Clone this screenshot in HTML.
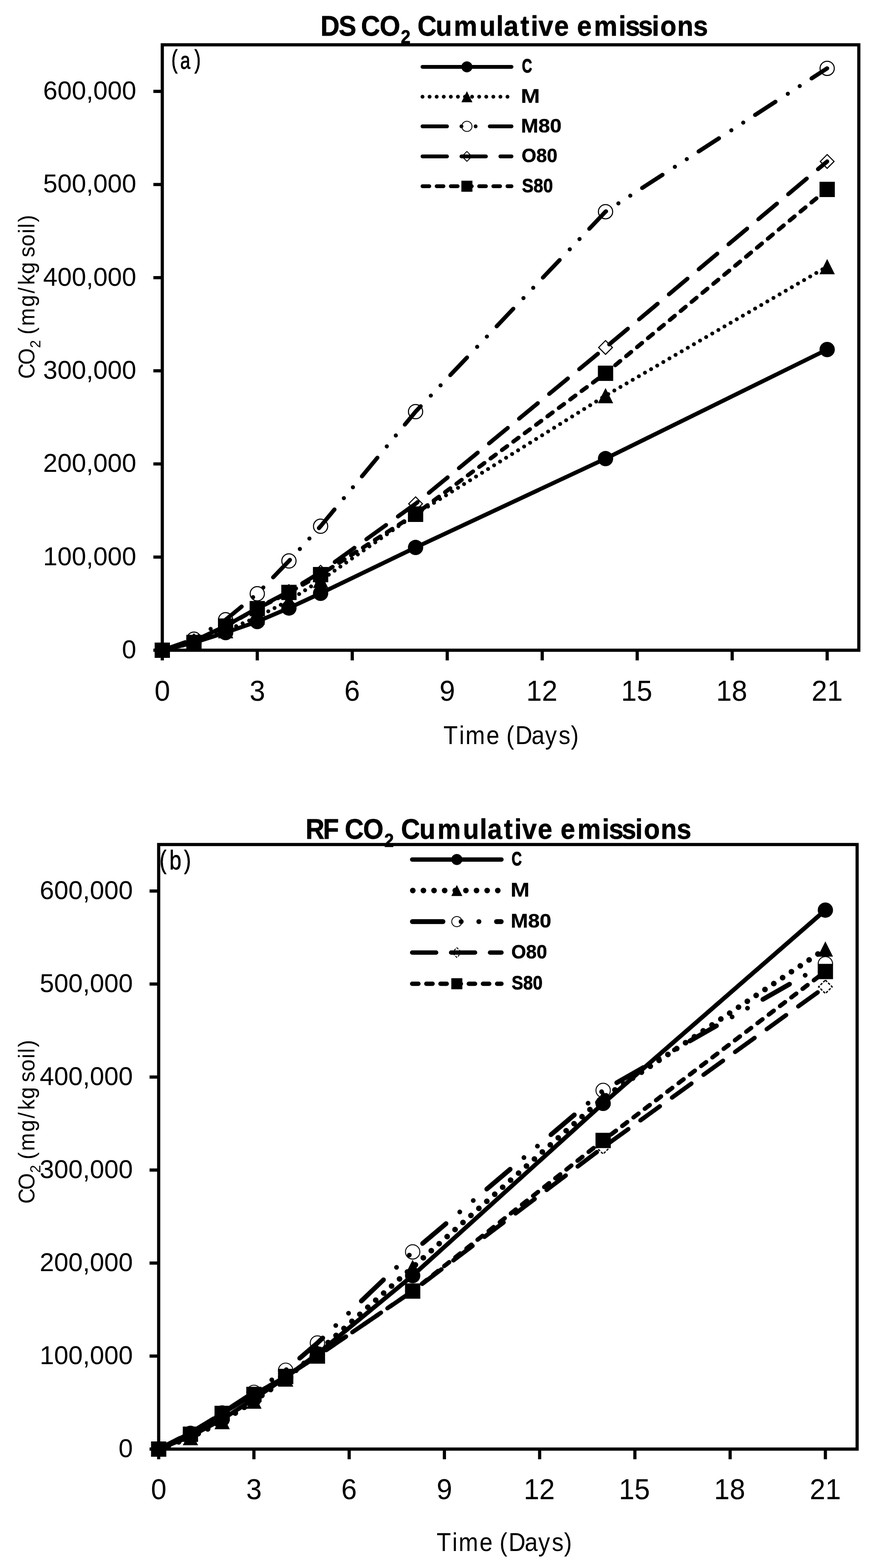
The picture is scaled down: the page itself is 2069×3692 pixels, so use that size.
<!DOCTYPE html>
<html><head><meta charset="utf-8"><title>CO2 Cumulative emissions</title>
<style>html,body{margin:0;padding:0;background:#fff}svg{display:block}text{font-family:"Liberation Sans",sans-serif;font-kerning:none;fill:#000}text[font-weight=bold]{stroke:#000;stroke-width:0.9px;stroke-linejoin:round;paint-order:stroke}</style>
</head><body>
<svg width="2069" height="3692" viewBox="0 0 2069 3692">
<rect width="2069" height="3692" fill="#fff"/>
<g id="chart-a">
<rect x="382.00" y="105.50" width="1639.50" height="1425.50" fill="none" stroke="#000" stroke-width="7.50"/>
<rect x="361.00" y="1527.25" width="21.00" height="7.50"/>
<text transform="translate(287.12 1550.00) scale(0.9950 1)" font-size="61.00">0</text>
<rect x="361.00" y="1307.94" width="21.00" height="7.50"/>
<text transform="translate(101.47 1330.69) scale(0.9950 1)" font-size="61.00">100,000</text>
<rect x="361.00" y="1088.63" width="21.00" height="7.50"/>
<text transform="translate(101.47 1111.38) scale(0.9950 1)" font-size="61.00">200,000</text>
<rect x="361.00" y="869.33" width="21.00" height="7.50"/>
<text transform="translate(101.47 892.08) scale(0.9950 1)" font-size="61.00">300,000</text>
<rect x="361.00" y="650.02" width="21.00" height="7.50"/>
<text transform="translate(101.47 672.77) scale(0.9950 1)" font-size="61.00">400,000</text>
<rect x="361.00" y="430.71" width="21.00" height="7.50"/>
<text transform="translate(101.47 453.46) scale(0.9950 1)" font-size="61.00">500,000</text>
<rect x="361.00" y="211.40" width="21.00" height="7.50"/>
<text transform="translate(101.47 234.15) scale(0.9950 1)" font-size="61.00">600,000</text>
<rect x="378.25" y="1531.00" width="7.50" height="24.00"/>
<text transform="translate(363.67 1649.60) scale(0.9650 1)" font-size="68.30">0</text>
<rect x="601.82" y="1531.00" width="7.50" height="24.00"/>
<text transform="translate(587.43 1649.60) scale(0.9650 1)" font-size="68.30">3</text>
<rect x="825.39" y="1531.00" width="7.50" height="24.00"/>
<text transform="translate(810.58 1649.60) scale(0.9650 1)" font-size="68.30">6</text>
<rect x="1048.95" y="1531.00" width="7.50" height="24.00"/>
<text transform="translate(1034.39 1649.60) scale(0.9650 1)" font-size="68.30">9</text>
<rect x="1272.52" y="1531.00" width="7.50" height="24.00"/>
<text transform="translate(1238.76 1649.60) scale(0.9650 1)" font-size="68.30">12</text>
<rect x="1496.09" y="1531.00" width="7.50" height="24.00"/>
<text transform="translate(1462.06 1649.60) scale(0.9650 1)" font-size="68.30">15</text>
<rect x="1719.66" y="1531.00" width="7.50" height="24.00"/>
<text transform="translate(1685.68 1649.60) scale(0.9650 1)" font-size="68.30">18</text>
<rect x="1943.23" y="1531.00" width="7.50" height="24.00"/>
<text transform="translate(1910.27 1649.60) scale(0.9650 1)" font-size="68.30">21</text>
<path d="M382.00 1531.00 L456.52 1513.00 L531.05 1489.50 L605.57 1463.60 L680.09 1431.70 L754.61 1397.00 L978.18 1289.10 L1425.32 1079.80 L1946.98 823.00" fill="none" stroke="#000" stroke-width="9.70" stroke-linecap="round" stroke-linejoin="round"/>
<path d="M382.00 1531.00 L456.52 1514.00 L531.05 1485.00 L605.57 1453.00 L680.09 1414.00 L754.61 1366.50 L978.18 1211.00 L1425.32 931.60 L1946.98 627.80" fill="none" stroke="#000" stroke-width="9.30" stroke-linecap="round" stroke-linejoin="round" stroke-dasharray="0.01 16.66" stroke-dashoffset="0.00"/>
<path d="M382.00 1531.00 L456.52 1505.00 L531.05 1459.30 L605.57 1398.00 L680.09 1320.80 L754.61 1239.10 L978.18 969.30 L1425.32 498.40 L1946.98 160.90" fill="none" stroke="#000" stroke-width="9.70" stroke-linecap="round" stroke-linejoin="round" stroke-dasharray="56.96 34.70 0.01 33.32 0.01 33.32" stroke-dashoffset="0.00"/>
<path d="M382.00 1531.00 L456.52 1509.00 L531.05 1474.00 L605.57 1432.00 L680.09 1392.80 L754.61 1347.40 L978.18 1186.20 L1425.32 818.20 L1946.98 380.20" fill="none" stroke="#000" stroke-width="9.70" stroke-linecap="round" stroke-linejoin="round" stroke-dasharray="56.96 34.70" stroke-dashoffset="0.00"/>
<path d="M382.00 1531.00 L456.52 1512.70 L531.05 1474.20 L605.57 1433.10 L680.09 1394.90 L754.61 1353.00 L978.18 1210.40 L1425.32 878.90 L1946.98 446.00" fill="none" stroke="#000" stroke-width="9.70" stroke-linecap="round" stroke-linejoin="round" stroke-dasharray="15.30 18.03" stroke-dashoffset="0.00"/>
<circle cx="382.00" cy="1531.00" r="18.00"/>
<circle cx="456.52" cy="1513.00" r="18.00"/>
<circle cx="531.05" cy="1489.50" r="18.00"/>
<circle cx="605.57" cy="1463.60" r="18.00"/>
<circle cx="680.09" cy="1431.70" r="18.00"/>
<circle cx="754.61" cy="1397.00" r="18.00"/>
<circle cx="978.18" cy="1289.10" r="18.00"/>
<circle cx="1425.32" cy="1079.80" r="18.00"/>
<circle cx="1946.98" cy="823.00" r="18.00"/>
<path d="M382.00 1513.00 L400.00 1549.00 L364.00 1549.00 Z"/>
<path d="M456.52 1496.00 L474.52 1532.00 L438.52 1532.00 Z"/>
<path d="M531.05 1467.00 L549.05 1503.00 L513.05 1503.00 Z"/>
<path d="M605.57 1435.00 L623.57 1471.00 L587.57 1471.00 Z"/>
<path d="M680.09 1396.00 L698.09 1432.00 L662.09 1432.00 Z"/>
<path d="M754.61 1348.50 L772.61 1384.50 L736.61 1384.50 Z"/>
<path d="M978.18 1193.00 L996.18 1229.00 L960.18 1229.00 Z"/>
<path d="M1425.32 913.60 L1443.32 949.60 L1407.32 949.60 Z"/>
<path d="M1946.98 609.80 L1964.98 645.80 L1928.98 645.80 Z"/>
<circle cx="382.00" cy="1531.00" r="16.75" fill="none" stroke="#000" stroke-width="2.50"/>
<circle cx="456.52" cy="1505.00" r="16.75" fill="none" stroke="#000" stroke-width="2.50"/>
<circle cx="531.05" cy="1459.30" r="16.75" fill="none" stroke="#000" stroke-width="2.50"/>
<circle cx="605.57" cy="1398.00" r="16.75" fill="none" stroke="#000" stroke-width="2.50"/>
<circle cx="680.09" cy="1320.80" r="16.75" fill="none" stroke="#000" stroke-width="2.50"/>
<circle cx="754.61" cy="1239.10" r="16.75" fill="none" stroke="#000" stroke-width="2.50"/>
<circle cx="978.18" cy="969.30" r="16.75" fill="none" stroke="#000" stroke-width="2.50"/>
<circle cx="1425.32" cy="498.40" r="16.75" fill="none" stroke="#000" stroke-width="2.50"/>
<circle cx="1946.98" cy="160.90" r="16.75" fill="none" stroke="#000" stroke-width="2.50"/>
<path d="M382.00 1514.77 L398.23 1531.00 L382.00 1547.23 L365.77 1531.00 Z" fill="none" stroke="#000" stroke-width="2.50"/>
<path d="M456.52 1492.77 L472.75 1509.00 L456.52 1525.23 L440.29 1509.00 Z" fill="none" stroke="#000" stroke-width="2.50"/>
<path d="M531.05 1457.77 L547.28 1474.00 L531.05 1490.23 L514.81 1474.00 Z" fill="none" stroke="#000" stroke-width="2.50"/>
<path d="M605.57 1415.77 L621.80 1432.00 L605.57 1448.23 L589.34 1432.00 Z" fill="none" stroke="#000" stroke-width="2.50"/>
<path d="M680.09 1376.57 L696.32 1392.80 L680.09 1409.03 L663.86 1392.80 Z" fill="none" stroke="#000" stroke-width="2.50"/>
<path d="M754.61 1331.17 L770.85 1347.40 L754.61 1363.63 L738.38 1347.40 Z" fill="none" stroke="#000" stroke-width="2.50"/>
<path d="M978.18 1169.97 L994.41 1186.20 L978.18 1202.43 L961.95 1186.20 Z" fill="none" stroke="#000" stroke-width="2.50"/>
<path d="M1425.32 801.97 L1441.55 818.20 L1425.32 834.43 L1409.09 818.20 Z" fill="none" stroke="#000" stroke-width="2.50"/>
<path d="M1946.98 363.97 L1963.21 380.20 L1946.98 396.43 L1930.75 380.20 Z" fill="none" stroke="#000" stroke-width="2.50"/>
<rect x="364.00" y="1513.00" width="36.00" height="36.00"/>
<rect x="438.52" y="1494.70" width="36.00" height="36.00"/>
<rect x="513.05" y="1456.20" width="36.00" height="36.00"/>
<rect x="587.57" y="1415.10" width="36.00" height="36.00"/>
<rect x="662.09" y="1376.90" width="36.00" height="36.00"/>
<rect x="736.61" y="1335.00" width="36.00" height="36.00"/>
<rect x="960.18" y="1192.40" width="36.00" height="36.00"/>
<rect x="1407.32" y="860.90" width="36.00" height="36.00"/>
<rect x="1928.98" y="428.00" width="36.00" height="36.00"/>
<path d="M994.50 157.40 L1204.00 157.40" fill="none" stroke="#000" stroke-width="9.00" stroke-linecap="round" stroke-linejoin="round"/>
<circle cx="1099.00" cy="157.40" r="13.00"/>
<text transform="translate(1228.59 171.40) scale(0.7138 1)" font-size="46.50" font-weight="bold" style="stroke:#000;stroke-width:1.30px;stroke-linejoin:round;vector-effect:non-scaling-stroke">C</text>
<path d="M994.50 227.70 L1204.00 227.70" fill="none" stroke="#000" stroke-width="9.00" stroke-linecap="round" stroke-linejoin="round" stroke-dasharray="0.01 16.66" stroke-dashoffset="0.00"/>
<path d="M1099.00 214.70 L1112.00 240.70 L1086.00 240.70 Z"/>
<text transform="translate(1225.82 241.70) scale(1.1657 1)" font-size="46.50" font-weight="bold" style="stroke:#000;stroke-width:0.30px;stroke-linejoin:round;vector-effect:non-scaling-stroke">M</text>
<path d="M994.50 297.50 L1204.00 297.50" fill="none" stroke="#000" stroke-width="9.00" stroke-linecap="round" stroke-linejoin="round" stroke-dasharray="57.66 34.00 0.01 33.32 0.01 33.32" stroke-dashoffset="0.00"/>
<circle cx="1099.00" cy="297.50" r="12.00" fill="none" stroke="#000" stroke-width="2.00"/>
<text transform="translate(1226.26 311.50) scale(1.0581 1)" font-size="46.50" font-weight="bold" style="stroke:#000;stroke-width:0.50px;stroke-linejoin:round;vector-effect:non-scaling-stroke">M80</text>
<path d="M994.50 368.20 L1204.00 368.20" fill="none" stroke="#000" stroke-width="9.00" stroke-linecap="round" stroke-linejoin="round" stroke-dasharray="57.66 34.00" stroke-dashoffset="0.00"/>
<path d="M1099.00 356.61 L1110.59 368.20 L1099.00 379.79 L1087.41 368.20 Z" fill="none" stroke="#000" stroke-width="2.00"/>
<text transform="translate(1227.77 382.20) scale(0.9586 1)" font-size="46.50" font-weight="bold" style="stroke:#000;stroke-width:0.60px;stroke-linejoin:round;vector-effect:non-scaling-stroke">O80</text>
<path d="M994.50 438.50 L1204.00 438.50" fill="none" stroke="#000" stroke-width="9.00" stroke-linecap="round" stroke-linejoin="round" stroke-dasharray="16.00 17.33" stroke-dashoffset="0.00"/>
<rect x="1086.00" y="425.50" width="26.00" height="26.00"/>
<text transform="translate(1228.57 452.50) scale(0.8806 1)" font-size="46.50" font-weight="bold" style="stroke:#000;stroke-width:0.90px;stroke-linejoin:round;vector-effect:non-scaling-stroke">S80</text>
<text transform="translate(0 83.90) scale(0.9265 1)" font-size="67.00" font-weight="bold" x="814.44 860.53 901.80 917.29 964.54 1018.33 1044.59 1060.62 1107.19 1152.97 1217.98 1260.66 1280.22 1322.08 1348.51 1368.15 1407.96 1446.35 1466.13 1508.87 1571.71 1588.78 1621.32 1656.22 1677.68 1720.50 1761.35" xml:space="preserve">DS CO<tspan font-size="44.00" dy="18.00">2</tspan><tspan dy="-18.00"> Cumulative emissions</tspan></text>
<text transform="translate(0 1752.00) scale(0.8973 1)" font-size="61.60" x="1163.20 1204.31 1220.91 1275.77 1312.41 1328.11 1351.79 1394.15 1429.83 1465.54 1497.57" xml:space="preserve">Time (Days)</text>
<text transform="translate(81.00 0) rotate(-90) scale(0.9350 1)" font-size="54.00" x="-953.95 -918.73 -876.41 -855.19 -842.42 -820.99 -772.68 -738.87 -717.69 -690.16 -661.33 -647.85 -620.39 -587.99 -574.54 -559.37" xml:space="preserve">CO<tspan font-size="36.00" dy="14.10">2</tspan><tspan dy="-14.10"> (mg/kg soil)</tspan></text>
<text transform="translate(0 161.65) scale(0.7362 1)" font-size="57.90" style="stroke:#000;stroke-width:1.20px;stroke-linejoin:round;vector-effect:non-scaling-stroke" x="547.88 576.15 621.82" xml:space="preserve"><tspan font-size="60.20" dy="-1.65">(</tspan><tspan dy="1.65">a</tspan><tspan font-size="60.20" dy="-1.65">)</tspan></text>
</g>
<g id="chart-b">
<rect x="373.50" y="1988.50" width="1644.00" height="1423.50" fill="none" stroke="#000" stroke-width="7.50"/>
<rect x="352.00" y="3408.25" width="21.50" height="7.50"/>
<text transform="translate(279.12 3431.00) scale(0.9950 1)" font-size="61.00">0</text>
<rect x="352.00" y="3189.25" width="21.50" height="7.50"/>
<text transform="translate(93.47 3212.00) scale(0.9950 1)" font-size="61.00">100,000</text>
<rect x="352.00" y="2970.25" width="21.50" height="7.50"/>
<text transform="translate(93.47 2993.00) scale(0.9950 1)" font-size="61.00">200,000</text>
<rect x="352.00" y="2751.25" width="21.50" height="7.50"/>
<text transform="translate(93.47 2774.00) scale(0.9950 1)" font-size="61.00">300,000</text>
<rect x="352.00" y="2532.25" width="21.50" height="7.50"/>
<text transform="translate(93.47 2555.00) scale(0.9950 1)" font-size="61.00">400,000</text>
<rect x="352.00" y="2313.25" width="21.50" height="7.50"/>
<text transform="translate(93.47 2336.00) scale(0.9950 1)" font-size="61.00">500,000</text>
<rect x="352.00" y="2094.25" width="21.50" height="7.50"/>
<text transform="translate(93.47 2117.00) scale(0.9950 1)" font-size="61.00">600,000</text>
<rect x="369.75" y="3412.00" width="7.50" height="24.00"/>
<text transform="translate(355.17 3530.20) scale(0.9650 1)" font-size="68.30">0</text>
<rect x="593.93" y="3412.00" width="7.50" height="24.00"/>
<text transform="translate(579.55 3530.20) scale(0.9650 1)" font-size="68.30">3</text>
<rect x="818.11" y="3412.00" width="7.50" height="24.00"/>
<text transform="translate(803.31 3530.20) scale(0.9650 1)" font-size="68.30">6</text>
<rect x="1042.30" y="3412.00" width="7.50" height="24.00"/>
<text transform="translate(1027.73 3530.20) scale(0.9650 1)" font-size="68.30">9</text>
<rect x="1266.48" y="3412.00" width="7.50" height="24.00"/>
<text transform="translate(1232.72 3530.20) scale(0.9650 1)" font-size="68.30">12</text>
<rect x="1490.66" y="3412.00" width="7.50" height="24.00"/>
<text transform="translate(1456.63 3530.20) scale(0.9650 1)" font-size="68.30">15</text>
<rect x="1714.84" y="3412.00" width="7.50" height="24.00"/>
<text transform="translate(1680.86 3530.20) scale(0.9650 1)" font-size="68.30">18</text>
<rect x="1939.02" y="3412.00" width="7.50" height="24.00"/>
<text transform="translate(1906.07 3530.20) scale(0.9650 1)" font-size="68.30">21</text>
<path d="M373.50 3412.00 L448.23 3382.00 L522.95 3342.00 L597.68 3294.00 L672.41 3243.00 L747.14 3188.00 L971.32 3003.50 L1419.68 2598.10 L1942.77 2142.90" fill="none" stroke="#000" stroke-width="10.30" stroke-linecap="round" stroke-linejoin="round"/>
<path d="M373.50 3412.00 L448.23 3385.00 L522.95 3347.20 L597.68 3299.00 L672.41 3247.00 L747.14 3183.50 L971.32 2983.90 L1419.68 2585.00 L1942.77 2234.60" fill="none" stroke="#000" stroke-width="13.30" stroke-linecap="round" stroke-linejoin="round" stroke-dasharray="0.01 24.99" stroke-dashoffset="0.00"/>
<path d="M373.50 3412.00 L448.23 3375.00 L522.95 3326.90 L597.68 3278.40 L672.41 3226.40 L747.14 3162.30 L971.32 2947.70 L1419.68 2567.60 L1942.77 2269.20" fill="none" stroke="#000" stroke-width="11.20" stroke-linecap="round" stroke-linejoin="round" stroke-dasharray="72.16 42.46 0.01 41.67 0.01 41.67" stroke-dashoffset="0.00"/>
<path d="M373.50 3412.00 L448.23 3373.40 L522.95 3328.00 L597.68 3283.00 L672.41 3242.00 L747.14 3193.00 L971.32 3040.00 L1419.68 2701.40 L1942.77 2323.50" fill="none" stroke="#000" stroke-width="10.20" stroke-linecap="round" stroke-linejoin="round" stroke-dasharray="56.46 35.20" stroke-dashoffset="0.00"/>
<path d="M373.50 3412.00 L448.23 3377.00 L522.95 3328.00 L597.68 3283.30 L672.41 3241.00 L747.14 3192.90 L971.32 3039.90 L1419.68 2685.30 L1942.77 2287.50" fill="none" stroke="#000" stroke-width="10.20" stroke-linecap="round" stroke-linejoin="round" stroke-dasharray="14.80 18.53" stroke-dashoffset="0.00"/>
<circle cx="373.50" cy="3412.00" r="18.00"/>
<circle cx="448.23" cy="3382.00" r="18.00"/>
<circle cx="522.95" cy="3342.00" r="18.00"/>
<circle cx="597.68" cy="3294.00" r="18.00"/>
<circle cx="672.41" cy="3243.00" r="18.00"/>
<circle cx="747.14" cy="3188.00" r="18.00"/>
<circle cx="971.32" cy="3003.50" r="18.00"/>
<circle cx="1419.68" cy="2598.10" r="18.00"/>
<circle cx="1942.77" cy="2142.90" r="18.00"/>
<path d="M373.50 3394.00 L391.50 3430.00 L355.50 3430.00 Z"/>
<path d="M448.23 3367.00 L466.23 3403.00 L430.23 3403.00 Z"/>
<path d="M522.95 3329.20 L540.95 3365.20 L504.95 3365.20 Z"/>
<path d="M597.68 3281.00 L615.68 3317.00 L579.68 3317.00 Z"/>
<path d="M672.41 3229.00 L690.41 3265.00 L654.41 3265.00 Z"/>
<path d="M747.14 3165.50 L765.14 3201.50 L729.14 3201.50 Z"/>
<path d="M971.32 2965.90 L989.32 3001.90 L953.32 3001.90 Z"/>
<path d="M1419.68 2567.00 L1437.68 2603.00 L1401.68 2603.00 Z"/>
<path d="M1942.77 2216.60 L1960.77 2252.60 L1924.77 2252.60 Z"/>
<circle cx="373.50" cy="3412.00" r="16.90" fill="none" stroke="#000" stroke-width="2.20"/>
<circle cx="448.23" cy="3375.00" r="16.90" fill="none" stroke="#000" stroke-width="2.20"/>
<circle cx="522.95" cy="3326.90" r="16.90" fill="none" stroke="#000" stroke-width="2.20"/>
<circle cx="597.68" cy="3278.40" r="16.90" fill="none" stroke="#000" stroke-width="2.20"/>
<circle cx="672.41" cy="3226.40" r="16.90" fill="none" stroke="#000" stroke-width="2.20"/>
<circle cx="747.14" cy="3162.30" r="16.90" fill="none" stroke="#000" stroke-width="2.20"/>
<circle cx="971.32" cy="2947.70" r="16.90" fill="none" stroke="#000" stroke-width="2.20"/>
<circle cx="1419.68" cy="2567.60" r="16.90" fill="none" stroke="#000" stroke-width="2.20"/>
<circle cx="1942.77" cy="2269.20" r="16.90" fill="none" stroke="#000" stroke-width="2.20"/>
<path d="M373.50 3396.12 L389.38 3412.00 L373.50 3427.88 L357.62 3412.00 Z" fill="none" stroke="#000" stroke-width="3.00" stroke-dasharray="6 3.2"/>
<path d="M448.23 3357.52 L464.11 3373.40 L448.23 3389.28 L432.35 3373.40 Z" fill="none" stroke="#000" stroke-width="3.00" stroke-dasharray="6 3.2"/>
<path d="M522.95 3312.12 L538.83 3328.00 L522.95 3343.88 L507.08 3328.00 Z" fill="none" stroke="#000" stroke-width="3.00" stroke-dasharray="6 3.2"/>
<path d="M597.68 3267.12 L613.56 3283.00 L597.68 3298.88 L581.80 3283.00 Z" fill="none" stroke="#000" stroke-width="3.00" stroke-dasharray="6 3.2"/>
<path d="M672.41 3226.12 L688.29 3242.00 L672.41 3257.88 L656.53 3242.00 Z" fill="none" stroke="#000" stroke-width="3.00" stroke-dasharray="6 3.2"/>
<path d="M747.14 3177.12 L763.02 3193.00 L747.14 3208.88 L731.26 3193.00 Z" fill="none" stroke="#000" stroke-width="3.00" stroke-dasharray="6 3.2"/>
<path d="M971.32 3024.12 L987.20 3040.00 L971.32 3055.88 L955.44 3040.00 Z" fill="none" stroke="#000" stroke-width="3.00" stroke-dasharray="6 3.2"/>
<path d="M1419.68 2685.52 L1435.56 2701.40 L1419.68 2717.28 L1403.80 2701.40 Z" fill="none" stroke="#000" stroke-width="3.00" stroke-dasharray="6 3.2"/>
<path d="M1942.77 2307.62 L1958.65 2323.50 L1942.77 2339.38 L1926.89 2323.50 Z" fill="none" stroke="#000" stroke-width="3.00" stroke-dasharray="6 3.2"/>
<rect x="355.50" y="3394.00" width="36.00" height="36.00"/>
<rect x="430.23" y="3359.00" width="36.00" height="36.00"/>
<rect x="504.95" y="3310.00" width="36.00" height="36.00"/>
<rect x="579.68" y="3265.30" width="36.00" height="36.00"/>
<rect x="654.41" y="3223.00" width="36.00" height="36.00"/>
<rect x="729.14" y="3174.90" width="36.00" height="36.00"/>
<rect x="953.32" y="3021.90" width="36.00" height="36.00"/>
<rect x="1401.68" y="2667.30" width="36.00" height="36.00"/>
<rect x="1924.77" y="2269.50" width="36.00" height="36.00"/>
<path d="M970.10 2023.80 L1180.40 2023.80" fill="none" stroke="#000" stroke-width="10.20" stroke-linecap="round" stroke-linejoin="round"/>
<circle cx="1075.30" cy="2023.80" r="13.00"/>
<text transform="translate(1204.29 2037.80) scale(0.7138 1)" font-size="46.50" font-weight="bold" style="stroke:#000;stroke-width:1.30px;stroke-linejoin:round;vector-effect:non-scaling-stroke">C</text>
<path d="M971.65 2096.80 L1178.85 2096.80" fill="none" stroke="#000" stroke-width="13.30" stroke-linecap="round" stroke-linejoin="round" stroke-dasharray="0.01 24.99" stroke-dashoffset="0.00"/>
<path d="M1075.30 2083.80 L1088.30 2109.80 L1062.30 2109.80 Z"/>
<text transform="translate(1201.52 2110.80) scale(1.1657 1)" font-size="46.50" font-weight="bold" style="stroke:#000;stroke-width:0.30px;stroke-linejoin:round;vector-effect:non-scaling-stroke">M</text>
<path d="M970.85 2170.00 L1179.65 2170.00" fill="none" stroke="#000" stroke-width="11.70" stroke-linecap="round" stroke-linejoin="round" stroke-dasharray="71.66 42.96 0.01 41.67 0.01 41.67" stroke-dashoffset="0.00"/>
<circle cx="1075.30" cy="2170.00" r="12.00" fill="none" stroke="#000" stroke-width="2.00"/>
<text transform="translate(1201.96 2184.00) scale(1.0581 1)" font-size="46.50" font-weight="bold" style="stroke:#000;stroke-width:0.50px;stroke-linejoin:round;vector-effect:non-scaling-stroke">M80</text>
<path d="M970.10 2242.90 L1180.40 2242.90" fill="none" stroke="#000" stroke-width="10.20" stroke-linecap="round" stroke-linejoin="round" stroke-dasharray="56.46 35.20" stroke-dashoffset="0.00"/>
<path d="M1075.30 2231.46 L1086.74 2242.90 L1075.30 2254.34 L1063.86 2242.90 Z" fill="none" stroke="#000" stroke-width="2.20" stroke-dasharray="5 3"/>
<text transform="translate(1203.47 2256.90) scale(0.9586 1)" font-size="46.50" font-weight="bold" style="stroke:#000;stroke-width:0.60px;stroke-linejoin:round;vector-effect:non-scaling-stroke">O80</text>
<path d="M970.10 2316.30 L1180.40 2316.30" fill="none" stroke="#000" stroke-width="10.20" stroke-linecap="round" stroke-linejoin="round" stroke-dasharray="14.80 18.53" stroke-dashoffset="0.00"/>
<rect x="1062.30" y="2303.30" width="26.00" height="26.00"/>
<text transform="translate(1204.27 2330.30) scale(0.8806 1)" font-size="46.50" font-weight="bold" style="stroke:#000;stroke-width:0.90px;stroke-linejoin:round;vector-effect:non-scaling-stroke">S80</text>
<text transform="translate(0 1974.50) scale(0.9204 1)" font-size="67.00" font-weight="bold" x="781.33 826.01 865.38 881.56 928.81 982.69 1009.28 1025.68 1072.53 1118.68 1184.06 1226.95 1246.71 1288.79 1315.38 1335.22 1375.29 1413.77 1433.63 1476.72 1539.85 1557.09 1589.84 1624.91 1646.59 1689.70 1730.81" xml:space="preserve">RF CO<tspan font-size="44.00" dy="19.20">2</tspan><tspan dy="-19.20"> Cumulative emissions</tspan></text>
<text transform="translate(0 3652.40) scale(0.8973 1)" font-size="61.60" x="1145.37 1186.48 1203.08 1257.93 1294.58 1310.27 1333.96 1376.32 1412.00 1447.71 1479.74" xml:space="preserve">Time (Days)</text>
<text transform="translate(81.00 0) rotate(-90) scale(0.9350 1)" font-size="54.00" x="-3031.37 -2996.15 -2953.83 -2932.61 -2919.83 -2898.41 -2850.10 -2816.29 -2795.11 -2767.58 -2738.75 -2725.27 -2697.81 -2665.41 -2651.96 -2636.79" xml:space="preserve">CO<tspan font-size="36.00" dy="14.10">2</tspan><tspan dy="-14.10"> (mg/kg soil)</tspan></text>
<text transform="translate(0 2046.60) scale(0.8119 1)" font-size="62.40" style="stroke:#000;stroke-width:1.00px;stroke-linejoin:round;vector-effect:non-scaling-stroke" x="462.56 491.26 533.74" xml:space="preserve"><tspan font-size="60.20" dy="-1.60">(</tspan><tspan dy="1.60">b</tspan><tspan font-size="60.20" dy="-1.60">)</tspan></text>
</g>
</svg></body></html>
